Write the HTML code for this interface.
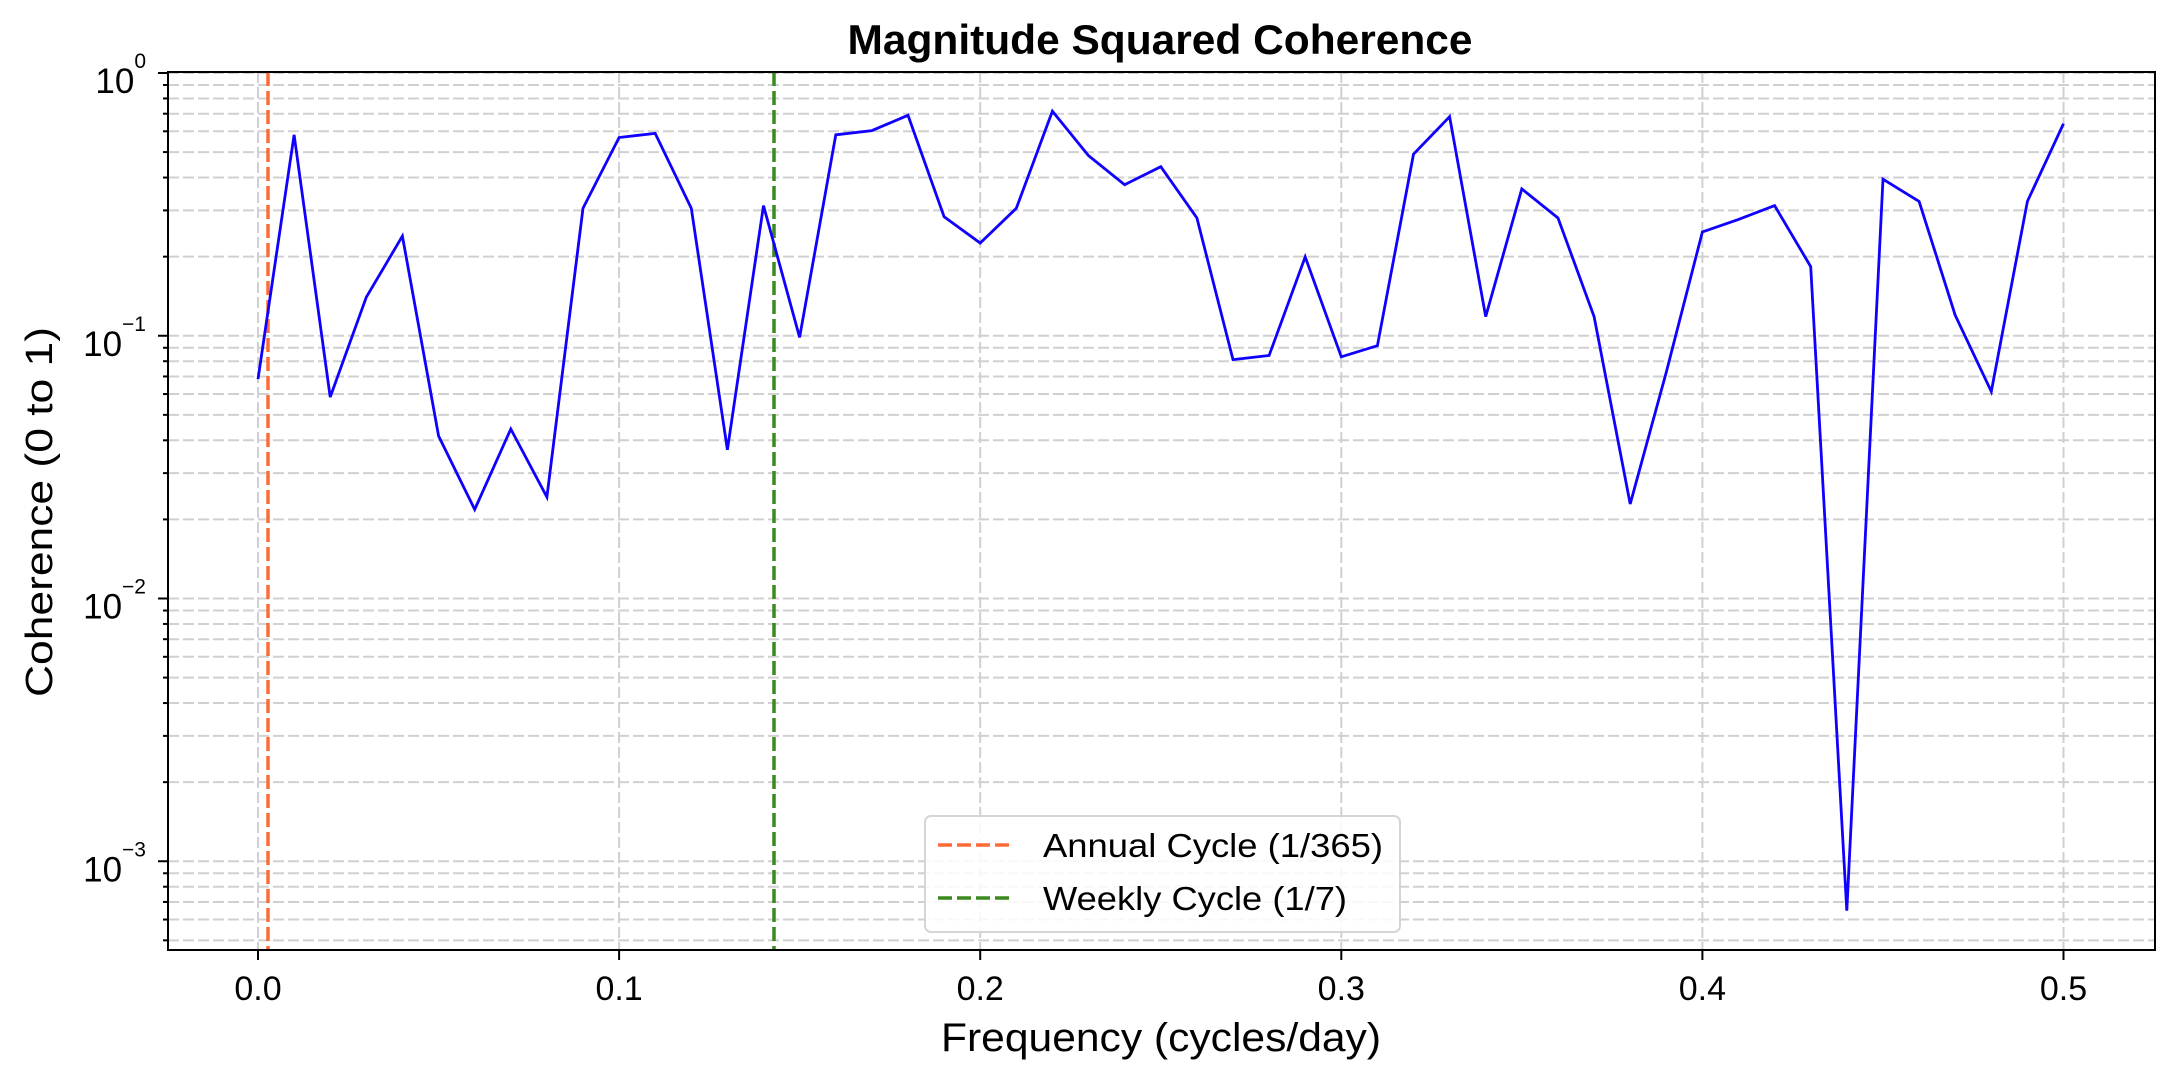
<!DOCTYPE html>
<html><head><meta charset="utf-8"><style>
html,body{margin:0;padding:0;background:#fff;}
svg{display:block;font-family:"Liberation Sans",Arial,sans-serif;}
</style></head><body>
<svg id="s" width="2176" height="1081" viewBox="0 0 2176 1081" xmlns="http://www.w3.org/2000/svg">
<rect width="2176" height="1081" fill="#fff"/>
<g id="grid"></g>
<line x1="268" y1="72" x2="268" y2="950" stroke="#ff6b35" stroke-width="3.5" stroke-dasharray="14,5"/>
<line x1="774" y1="72" x2="774" y2="950" stroke="#3a8a1f" stroke-width="3.5" stroke-dasharray="14,5"/>
<polyline id="pl" fill="none" stroke="#0f00ff" stroke-width="2.8" stroke-linejoin="miter" points=""/>
<g id="ticks"></g>
<rect x="168" y="72" width="1987" height="878" fill="none" stroke="#000" stroke-width="2"/>
<text x="1160" y="54" font-size="42" font-weight="bold" text-anchor="middle" textLength="625" lengthAdjust="spacingAndGlyphs">Magnitude Squared Coherence</text>
<text x="1161" y="1051" font-size="40" text-anchor="middle" textLength="440" lengthAdjust="spacingAndGlyphs">Frequency (cycles/day)</text>
<text transform="translate(52,512) rotate(-90)" font-size="38" text-anchor="middle" textLength="370" lengthAdjust="spacingAndGlyphs">Coherence (0 to 1)</text>
<g>
<rect x="925" y="816" width="475" height="116" rx="6" fill="#fff" fill-opacity="0.85" stroke="#d5d5d5" stroke-width="2"/>
<line x1="938" y1="845" x2="1012" y2="845" stroke="#ff6b35" stroke-width="3.5" stroke-dasharray="14,5"/>
<line x1="938" y1="898" x2="1012" y2="898" stroke="#3a8a1f" stroke-width="3.5" stroke-dasharray="14,5"/>
<text x="1043" y="857" font-size="33" textLength="340" lengthAdjust="spacingAndGlyphs">Annual Cycle (1/365)</text>
<text x="1043" y="910" font-size="33" textLength="304" lengthAdjust="spacingAndGlyphs">Weekly Cycle (1/7)</text>
</g>
</svg>
<script>
var NS="http://www.w3.org/2000/svg";
function X(f){return 258+f*3611;}
function Y(v){return 73-262.75*Math.log10(v);}
function el(p,t,a,txt){var e=document.createElementNS(NS,t);for(var k in a)e.setAttribute(k,a[k]);if(txt!==undefined)e.textContent=txt;p.appendChild(e);return e;}
var g=document.getElementById("grid"),tk=document.getElementById("ticks");
for(var d=-4;d<=0;d++){for(var m=1;m<=9;m++){var v=m*Math.pow(10,d);var y=Y(v);if(y<72||y>950)continue;
el(g,"line",{x1:168,x2:2155,y1:y,y2:y,stroke:"#d0d0d0","stroke-width":2,"stroke-dasharray":"11,4"});
el(tk,"line",{x1:m==1?158:163,x2:168,y1:y,y2:y,stroke:"#000","stroke-width":2});
if(m==1){var t=el(tk,"text",{x:146,y:y+20,"font-size":35,"text-anchor":"end"});
el(t,"tspan",{},"10");el(t,"tspan",{dy:-25,"font-size":21},d==0?"0":"\u2212"+(-d));}}}
for(var i=0;i<=5;i++){var x=X(i/10);
el(g,"line",{x1:x,x2:x,y1:72,y2:950,stroke:"#d0d0d0","stroke-width":2,"stroke-dasharray":"11,4"});
el(tk,"line",{x1:x,x2:x,y1:950,y2:960,stroke:"#000","stroke-width":2});
el(tk,"text",{x:x,y:1000,"font-size":34,"text-anchor":"middle"},(i/10).toFixed(1));}
var d=[273,97,286,214,170,314,367,309,358,150,99,96,150,324,148,243,97,94,83,156,175,150,80,112,133,120,157,259,256,185,257,249,111,84,228,136,157,228,363,268,167,158,148,192,656,129,145,227,282,145,89];
var pts=[];for(var i=0;i<d.length;i++){pts.push(X(i/100).toFixed(1)+","+(73+(d[i]-52.5)*1.388).toFixed(1));}
document.getElementById("pl").setAttribute("points",pts.join(" "));
</script>
</body></html>
